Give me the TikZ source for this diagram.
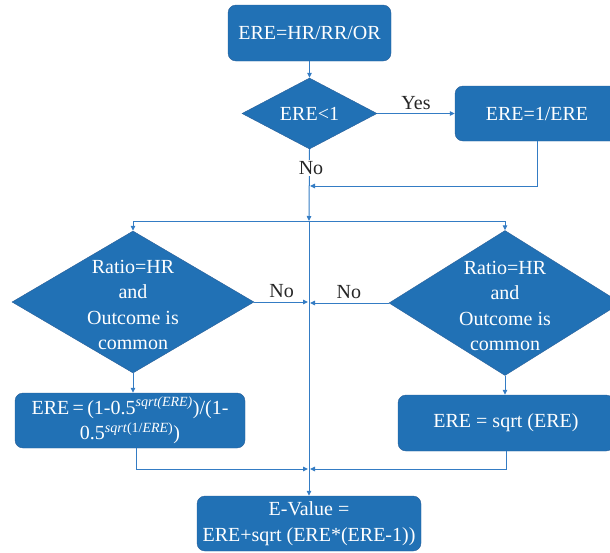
\documentclass[tikz,border=0pt]{standalone}
\usepackage{fontspec}
\setmainfont{Liberation Serif}
\usetikzlibrary{arrows.meta, shapes.geometric, positioning}
\definecolor{FlowBlue}{RGB}{33,113,181}
\definecolor{FlowEdge}{RGB}{40,94,152}
\definecolor{LineBlue}{RGB}{52,124,196}
\newcommand{\flowfont}{\fontsize{20}{25.5}\selectfont}
\tikzset{
  box/.style={draw=FlowEdge, fill=FlowBlue, rounded corners=8pt, text=white,
              align=center, inner sep=0pt, font=\flowfont},
  decision/.style={diamond, draw=FlowEdge, fill=FlowBlue, inner sep=0pt,
                   shape aspect=1.9, text=white, align=center, font=\flowfont},
  dtext/.style={text=white, align=center, font=\flowfont, yshift=-3pt},
  conn/.style={draw=LineBlue, line width=1pt, -{Triangle[length=5pt,width=4.5pt]}},
  lbl/.style={text=black!85, font=\flowfont}
}

\begin{document}
\begin{tikzpicture}[x=1pt, y=-1pt]
    \clip (0,0) rectangle (610,552);

    % top
    \node[box, minimum width=163pt, minimum height=56pt] (top) at (309.5,33) {ERE=HR/RR/OR};
    \node[decision, minimum width=135pt, minimum height=71pt] (d1) at (309.5,113.5) {ERE<1};
    \node[box, minimum width=164pt, minimum height=55pt] (yes) at (537,113.5) {ERE=1/ERE};

    % two tests
    \node[decision, minimum width=242pt, minimum height=142pt,
          label={[dtext]center:{Ratio=HR\\and\\Outcome is\\common}}] (ld) at (133,302) {};
    \node[decision, minimum width=232pt, minimum height=145pt,
          label={[dtext]center:{Ratio=HR\\and\\Outcome is\\common}}] (rd) at (505,303) {};

    % results
    \node[box, minimum width=230pt, minimum height=55pt] (lb) at (130,420.5)
      {ERE\,=\,(1-0.5\textsuperscript{\textit{sqrt(ERE)}})/(1-\\
       0.5\textsuperscript{\textit{sqrt}(1/\textit{ERE})})};
    \node[box, minimum width=216pt, minimum height=56pt] (rb) at (506,423) {ERE = sqrt (ERE)};
    \node[box, minimum width=224pt, minimum height=55pt] (ev) at (309,523.5)
      {E-Value =\\ERE+sqrt (ERE*(ERE-1))};

    \coordinate (back) at (310,186);
    \coordinate (split) at (309,221);
    \coordinate (merge) at (309,469);
    \coordinate (lbout) at (136,448);

    % connectors
    \draw[conn] (top.south) -- (d1.north);
    \draw[conn] (d1.east) -- (yes.west) node[lbl, midway, above] {Yes};
    \draw[conn] (yes.south) |- (back);
    \draw[conn] (d1.south) -- (split);
    \node[lbl, fill=white, inner sep=1pt] (no1) at (311,168) {No};
    \draw[conn] (split) -- (ev.north);
    \draw[conn] (split) -| (ld.north);
    \draw[conn] (split) -| (rd.north);
    \draw[conn, shorten >=1pt] (ld.east) -- (ld.east -| split) node[lbl, midway, above] {No};
    \draw[conn, shorten >=1pt] (rd.west) -- (rd.west -| split) node[lbl, midway, above] {No};
    \draw[conn] (ld.south) -- (ld.south |- lb.north);
    \draw[conn] (rd.south) -- (rd.south |- rb.north);
    \draw[conn, shorten >=1pt] (lbout) |- (merge);
    \draw[conn, shorten >=1pt] (rb.south) |- (merge);
  \end{tikzpicture}
\end{document}
